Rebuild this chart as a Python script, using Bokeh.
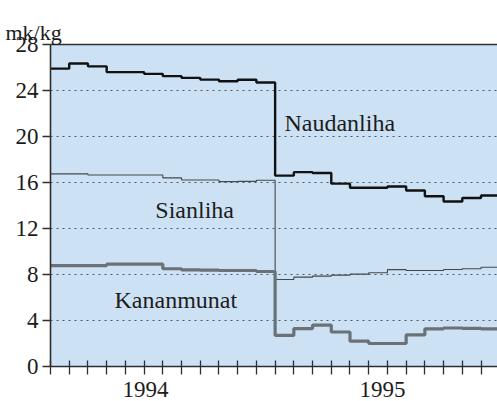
from bokeh.plotting import figure
from bokeh.models import (FixedTicker, LinearAxis, Label, Title, Range1d)
from bokeh.embed import file_html
from bokeh.resources import INLINE

# ---- data (monthly average prices, mk/kg) ----
months = list(range(24))  # Jan 1994 .. Dec 1995
naudanliha = [25.9, 26.35, 26.1, 25.6, 25.6, 25.45, 25.25, 25.1, 24.95, 24.8, 24.93, 24.7,
              16.6, 16.9, 16.83, 15.9, 15.55, 15.55, 15.65, 15.3, 14.8, 14.35, 14.65, 14.87]
sianliha = [16.75, 16.75, 16.65, 16.65, 16.65, 16.65, 16.4, 16.22, 16.22, 16.08, 16.1, 16.2,
            7.57, 7.77, 7.86, 7.95, 8.03, 8.15, 8.42, 8.35, 8.35, 8.43, 8.5, 8.63]
kananmunat = [8.78, 8.78, 8.78, 8.9, 8.9, 8.9, 8.5, 8.4, 8.38, 8.35, 8.35, 8.26,
              2.7, 3.3, 3.6, 3.0, 2.2, 2.0, 2.0, 2.75, 3.28, 3.35, 3.32, 3.28]
series_names = ["Naudanliha", "Sianliha", "Kananmunat"]
year_labels = ["1994", "1995"]
y_ticks = [0, 4, 8, 12, 16, 20, 24, 28]
unit_label = "mk/kg"

# ---- layout constants ----
year_label_pos = [5.07, 17.73]
name_pos = [(12.5, 21.2), (5.6, 13.63), (3.42, 5.74)]
FONT = "Liberation Serif"
FS = "23px"
FS_NAME = "24px"
TXT = "#1c1c1c"
AX = "#2e2e2e"

p = figure(width=497, height=401, output_backend="svg", toolbar_location=None,
           x_range=Range1d(0, 23.88), y_range=Range1d(0, 28),
           min_border_left=50, min_border_right=0, min_border_top=44, min_border_bottom=35,
           background_fill_color="#cce2f4", border_fill_color="white")
p.outline_line_color = None

x_steps = months + [months[-1] + 1]
p.step(x_steps, naudanliha + [naudanliha[-1]], mode="after", line_color="#111111", line_width=2.4)
p.step(x_steps, sianliha + [sianliha[-1]], mode="after", line_color="#43484e", line_width=1.1)
p.step(x_steps, kananmunat + [kananmunat[-1]], mode="after", line_color="#6a7177", line_width=3.2)

# axes
xa = p.xaxis[0]
xa.ticker = FixedTicker(ticks=year_label_pos, minor_ticks=list(range(0, 25)))
xa.major_label_overrides = {pos: lab for pos, lab in zip(year_label_pos, year_labels)}
xa.major_tick_in = 0
xa.major_tick_out = 0
xa.minor_tick_in = 6
xa.minor_tick_out = 8
xa.minor_tick_line_color = AX
xa.minor_tick_line_width = 1.3
xa.axis_line_color = AX
xa.axis_line_width = 1.6
xa.major_label_text_font = FONT
xa.major_label_text_font_size = FS
xa.major_label_text_color = TXT
xa.major_label_standoff = 7

ya = p.yaxis[0]
ya.ticker = FixedTicker(ticks=y_ticks)
ya.major_tick_in = 0
ya.major_tick_out = 8
ya.minor_tick_line_color = None
ya.major_tick_line_color = AX
ya.major_tick_line_width = 1.3
ya.axis_line_color = AX
ya.axis_line_width = 1.6
ya.major_label_text_font = FONT
ya.major_label_text_font_size = FS
ya.major_label_text_color = TXT
ya.major_label_standoff = 4

p.xgrid.grid_line_color = None
p.ygrid.ticker = FixedTicker(ticks=y_ticks[1:-1])
p.ygrid.grid_line_color = "#4b5a68"
p.ygrid.grid_line_dash = "2 4"
p.ygrid.grid_line_width = 1.1

# top frame line (an "above" axis without ticks or labels)
top = LinearAxis(ticker=FixedTicker(ticks=[]), axis_line_color=AX, axis_line_width=1.6,
                 major_tick_out=0, major_tick_in=0, major_tick_line_color=None,
                 minor_tick_line_color=None, major_label_text_font_size="0px",
                 major_label_standoff=0)
p.add_layout(top, "above")

for name, (lx, ly) in zip(series_names, name_pos):
    p.add_layout(Label(x=lx, y=ly, text=name, text_font=FONT, text_font_size=FS_NAME,
                       text_color=TXT, text_align="left", text_baseline="alphabetic"))

t = Title(text=unit_label, text_font=FONT, text_font_size="22px", text_color=TXT,
          text_font_style="normal", align="left", offset=-45, standoff=0)
p.add_layout(t, "above")

open("out.html", "w").write(file_html(p, INLINE))
